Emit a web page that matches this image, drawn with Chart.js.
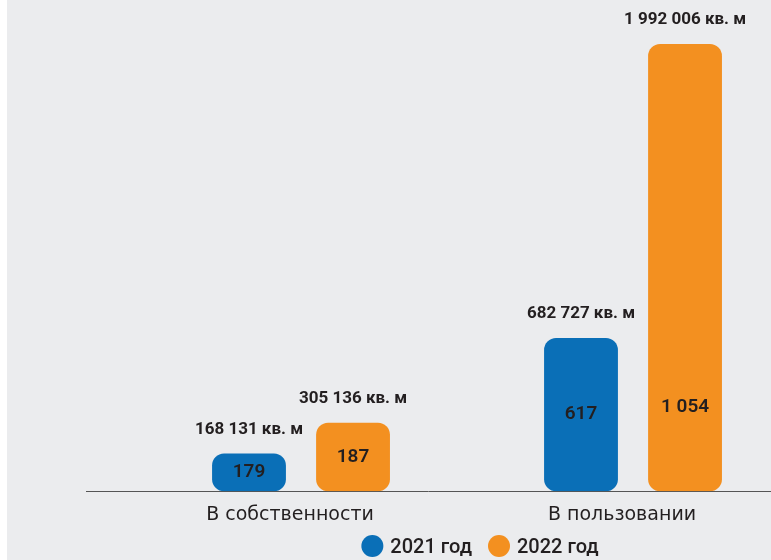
<!DOCTYPE html>
<html>
<head>
<meta charset="utf-8">
<script src="https://cdn.jsdelivr.net/npm/chart.js@4"></script>
<style>
html, body { margin: 0; padding: 0; background: #fff; overflow: hidden; }
#wrap { position: absolute; left: 7px; top: 0; width: 764px; height: 560px; background: #ebecee; }
</style>
</head>
<body>
<div id="wrap"><canvas id="myChart" width="764" height="560"></canvas></div>
<script>
const categories = ['В собственности', 'В пользовании']
const years = ['2021 год', '2022 год']
const area2021 = [168131, 682727]
const area2022 = [305136, 1992006]
const count2021 = [179, 617]
const count2022 = [187, 1054]
const colors = ['#0a6fb7', '#f39020']

const FONT = 'Roboto'
const textColor = '#231f20'

// 1992006 -> "1 992 006"
function fmt(n) {
  return n.toString().replace(/\B(?=(\d{3})+(?!\d))/g, ' ')
}

const counts = [count2021, count2022]

// value labels above bars and counts inside them
const barLabels = {
  id: 'barLabels',
  beforeDatasetsDraw(chart) {
    const ctx = chart.ctx
    const y = Math.round(chart.scales.y.getPixelForValue(0)) + 0.5
    ctx.save()
    ctx.strokeStyle = '#555'
    ctx.lineWidth = 1
    ctx.beginPath()
    ctx.moveTo(79, y)
    ctx.lineTo(chart.width, y)
    ctx.stroke()
    ctx.restore()
  },
  afterDatasetsDraw(chart) {
    const ctx = chart.ctx
    const base = chart.scales.y.getPixelForValue(0)
    ctx.save()
    ctx.textAlign = 'center'
    ctx.textBaseline = 'middle'
    ctx.fillStyle = textColor
    for (let d = 1; d <= 2; d++) {
      const meta = chart.getDatasetMeta(d)
      const vals = chart.data.datasets[d].data
      meta.data.forEach((bar, i) => {
        ctx.font = 'bold 17px ' + FONT
        ctx.fillText(fmt(vals[i]) + ' кв. м', bar.x, bar.y - 24)
        let yy = Math.max((bar.y + base) / 2, base - 84)
        ctx.font = '600 19px ' + FONT
        ctx.fillText(fmt(counts[d - 1][i]), bar.x, yy)
      })
    }
    ctx.restore()
  },
  afterDraw(chart) {
    // legend drawn by hand so it can sit off-centre like the original
    const ctx = chart.ctx
    ctx.save()
    ctx.font = '500 20px ' + FONT
    ctx.textBaseline = 'middle'
    const r = 11, gap = 7, between = 16
    let total = 0
    years.forEach(t => { total += r * 2 + gap + ctx.measureText(t).width })
    total += between
    let x = 473 - total / 2
    const y = 547
    years.forEach((t, i) => {
      ctx.fillStyle = colors[i]
      ctx.beginPath()
      ctx.arc(x + r, y - 1, r, 0, Math.PI * 2)
      ctx.fill()
      x += r * 2 + gap
      ctx.fillStyle = textColor
      ctx.fillText(t, x, y + 1)
      x += ctx.measureText(t).width + between
    })
    ctx.restore()
  }
}

const ctx = document.getElementById('myChart')

new Chart(ctx, {
  type: 'bar',
  data: {
    labels: categories,
    datasets: [
      { label: '', data: [null, null] },   // empty slot, pushes groups left
      { label: years[0], data: area2021, backgroundColor: colors[0], borderRadius: 12, borderSkipped: false },
      { label: years[1], data: area2022, backgroundColor: colors[1], borderRadius: 12, borderSkipped: false }
    ]
  },
  options: {
    responsive: false,
    animation: false,
    categoryPercentage: 0.94,
    barPercentage: 0.71,
    layout: { padding: { left: 76, right: 24, top: 44, bottom: 30 } },
    plugins: {
      legend: { display: false },
      tooltip: { enabled: false }
    },
    scales: {
      x: {
        grid: { display: false },
        border: { display: false },
        ticks: {
          color: textColor,
          padding: 4,
          labelOffset: 41,
          font: { family: 'DejaVu Sans', size: 19 }
        }
      },
      y: {
        display: false,
        min: 0,
        max: Math.max(...area2022)
      }
    }
  },
  plugins: [barLabels]
})
</script>
</body>
</html>
